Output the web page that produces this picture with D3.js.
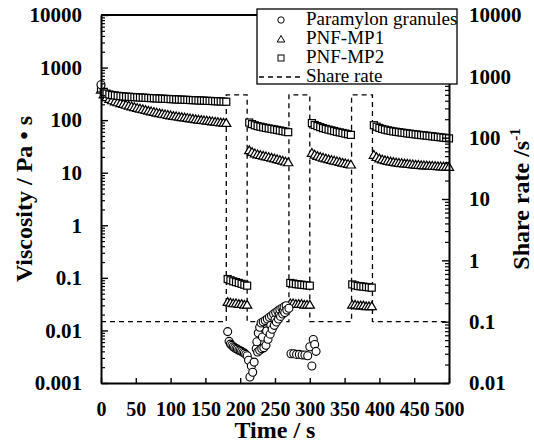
<!DOCTYPE html>
<html>
<head>
<meta charset="utf-8">
<script src="https://cdn.jsdelivr.net/npm/d3@7"></script>
<style>
  body { margin: 0; background: #fff; }
  svg text { font-family: "Liberation Serif", serif; }
</style>
</head>
<body>
<svg width="534" height="445" font-family="Liberation Serif"></svg>
<script>
// Time points shared by the two PNF series (s)
const mpTime = [0,4,8,12,16,20,24,28,32,36,40,44,48,52,56,60,64,68,72,76,80,84,88,92,96,100,104,108,112,116,120,124,128,132,136,140,144,148,152,156,160,164,168,172,176,180,
  182,186,190,194,198,202,206,210,
  213,217,221,225,229,233,237,241,245,249,253,257,261,265,269,
  272,276,280,284,288,292,296,300,
  303,307,311,315,319,323,327,331,335,339,343,347,351,355,359,
  361,365,369,373,377,381,385,389,
  392,396,400,404,408,412,416,420,424,428,432,436,440,444,448,452,456,460,464,468,472,476,480,484,488,492,496,500];

// PNF-MP2 viscosity (Pa s)
const mp2 = [400,345,320,308,300,295,290,286,283,280,278,276,274,272,270,268,266,264,262,261,259,257,256,254,253,251,250,248,247,245,244,243,241,240,239,237,236,235,233,232,231,229,228,227,225,224,
  0.095,0.09,0.086,0.083,0.08,0.077,0.074,0.071,
  90,84,80,77,75,73,71,69.5,68,66.5,65,63.5,62,60.5,59,
  0.08,0.078,0.076,0.075,0.074,0.073,0.072,0.071,
  88,81,77,73.5,70.5,68,66,64,62,60,58.5,57,55.5,54,52.5,
  0.075,0.072,0.07,0.069,0.068,0.067,0.066,0.065,
  80,75,71,68,66,64,62.5,61,60,59,58,57,56,55.2,54.4,53.6,52.8,52,51.3,50.6,49.9,49.2,48.5,47.8,47.1,46.4,45.7,45];

// PNF-MP1 viscosity (Pa s)
const mp1 = [380,310,275,255,240,229,220,212,204,197,190,184,178,172,167,162,157,152,148,144,140,136,133,130,127,124,121,119,117,115,113,111,109,107,105,103,101.5,100,98.5,97,95.5,94,92.5,91,90,89,
  0.035,0.034,0.033,0.033,0.032,0.032,0.031,0.031,
  27,25,23.5,22.5,21.8,21.2,20.6,20,19.4,18.8,18.2,17.6,17,16.4,15.9,
  0.033,0.033,0.032,0.032,0.032,0.031,0.031,0.031,
  24,22.2,21,20.2,19.5,18.8,18.2,17.6,17.1,16.6,16.1,15.6,15.2,14.8,14.4,
  0.031,0.031,0.03,0.03,0.03,0.029,0.029,0.029,
  22,20,18.8,18,17.4,16.9,16.5,16.1,15.8,15.5,15.3,15.1,14.9,14.7,14.5,14.3,14.2,14,13.9,13.8,13.7,13.6,13.5,13.4,13.3,13.2,13.1,13];

// Paramylon granules
const pgTime = [0,
  182,184,186,188,190,192,194,196,198,200,202,204,206,208,210,
  212,214,216,218,220,
  223,224,225,226,228,228,230,231,232,233,234,236,237,238,239,240,242,243,244,245,246,248,249,250,251,252,254,255,256,257,258,260,261,262,263,264,266,267,270,
  273,277,281,285,289,293,297,
  300,303,305,307,309];
const pgVisc = [470,
  0.0095,0.0062,0.0055,0.0052,0.0049,0.0047,0.0045,0.0044,0.0042,0.0041,0.004,0.0038,0.0037,0.0035,0.0033,
  0.0027,0.0013,0.0021,0.0016,0.0025,
  0.0045,0.0061,0.0039,0.0089,0.0115,0.0042,0.0138,0.0045,0.0075,0.0146,0.0047,0.0155,0.0052,0.0098,0.0165,0.0068,0.0178,0.0085,0.0125,0.019,0.0105,0.0205,0.0125,0.016,0.022,0.0145,0.0235,0.0165,0.02,0.025,0.0185,0.0265,0.0205,0.024,0.028,0.022,0.0295,0.0245,0.0265,
  0.0036,0.0036,0.0035,0.0035,0.0034,0.0034,0.0033,
  0.0049,0.0021,0.0067,0.0054,0.004];

// Shear rate program (s^-1)
const shareTime = [0,180,180,210,210,270,270,300,300,360,360,390,390,500];
const shareRate = [0.1,0.1,500,500,0.1,0.1,500,500,0.1,0.1,500,500,0.1,0.1];

const xTicks = [0,50,100,150,200,250,300,350,400,450,500];
const yLeftTicks = [0.001,0.01,0.1,1,10,100,1000,10000];
const yRightTicks = [0.01,0.1,1,10,100,1000,10000];
const legendLabels = ["Paramylon granules", "PNF-MP1", "PNF-MP2", "Share rate"];

const svg = d3.select("svg");
const mLeft = 101, mRight = 449, mTop = 15, mBottom = 383;

const x = d3.scaleLinear().domain([0, 500]).range([mLeft, mRight]);
const yL = d3.scaleLog().domain([0.001, 10000]).range([mBottom, mTop]);
const yR = d3.scaleLog().domain([0.01, 10000]).range([mBottom, mTop]);

// minor ticks 2..9 in each decade
function minors(lo, hi) {
  const out = [];
  for (let e = lo; e < hi; e++)
    for (let m = 2; m <= 9; m++) out.push(m * Math.pow(10, e));
  return out;
}
const fmt = d => String(+d.toPrecision(1));

// share rate dashed line
const shareLine = d3.line().x(d => x(d[0])).y(d => yR(d[1]));
svg.append("path")
  .datum(d3.zip(shareTime, shareRate))
  .attr("d", shareLine)
  .attr("fill", "none")
  .attr("stroke", "#000")
  .attr("stroke-width", 1.3)
  .attr("stroke-dasharray", "5,4");

// data markers
const mpData = d3.zip(mpTime, mp1, mp2);
const triPath = "M0,-4.2L4.6,3.6L-4.6,3.6Z";

svg.append("g").selectAll("path")
  .data(mpData).enter().append("path")
  .attr("transform", d => `translate(${x(d[0])},${yL(d[1])})`)
  .attr("d", triPath)
  .attr("fill", "#fff").attr("stroke", "#000").attr("stroke-width", 1.2);

svg.append("g").selectAll("rect")
  .data(mpData).enter().append("rect")
  .attr("x", d => x(d[0]) - 3.5)
  .attr("y", d => yL(d[2]) - 3.5)
  .attr("width", 7).attr("height", 7)
  .attr("fill", "#fff").attr("stroke", "#000").attr("stroke-width", 1.2);

svg.append("g").selectAll("circle")
  .data(d3.zip(pgTime, pgVisc)).enter().append("circle")
  .attr("cx", d => x(d[0]))
  .attr("cy", d => yL(d[1]))
  .attr("r", 4)
  .attr("fill", "#fff").attr("stroke", "#000").attr("stroke-width", 1.1);

// axes
function styleAxis(g, fs) {
  g.attr("font-family", null);
  g.select(".domain").attr("stroke-width", 2);
  g.selectAll(".tick line").attr("stroke-width", 1.4);
  g.selectAll("text").attr("font-size", fs).attr("font-weight", "bold");
}

svg.append("g")
  .attr("transform", `translate(0,${mBottom})`)
  .call(d3.axisBottom(x).tickValues(xTicks).tickSize(-5).tickSizeOuter(0).tickPadding(19))
  .call(g => styleAxis(g, 20));

svg.append("g")
  .attr("transform", `translate(${mLeft},0)`)
  .call(d3.axisLeft(yL).tickValues(minors(-3, 4)).tickSize(-4).tickFormat(""))
  .call(g => { g.select(".domain").remove(); g.selectAll("line").attr("stroke-width", 1.2); });
svg.append("g")
  .attr("transform", `translate(${mLeft},0)`)
  .call(d3.axisLeft(yL).tickValues(yLeftTicks).tickSize(-7).tickSizeOuter(0).tickPadding(19).tickFormat(fmt))
  .call(g => styleAxis(g, 21));

svg.append("g")
  .attr("transform", `translate(${mRight},0)`)
  .call(d3.axisRight(yR).tickValues(minors(-2, 4)).tickSize(-4).tickFormat(""))
  .call(g => { g.select(".domain").remove(); g.selectAll("line").attr("stroke-width", 1.2); });
svg.append("g")
  .attr("transform", `translate(${mRight},0)`)
  .call(d3.axisRight(yR).tickValues(yRightTicks).tickSize(-7).tickSizeOuter(0).tickPadding(20).tickFormat(fmt))
  .call(g => styleAxis(g, 21));

// top frame
svg.append("line")
  .attr("x1", mLeft).attr("x2", mRight).attr("y1", mTop).attr("y2", mTop)
  .attr("stroke", "#000").attr("stroke-width", 2);

// axis titles
svg.append("text")
  .attr("x", (mLeft + mRight) / 2).attr("y", 438)
  .attr("text-anchor", "middle")
  .attr("font-size", 24).attr("font-weight", "bold")
  .text("Time / s");

svg.append("text")
  .attr("transform", `translate(32,${(mTop + mBottom) / 2}) rotate(-90)`)
  .attr("text-anchor", "middle")
  .attr("font-size", 24).attr("font-weight", "bold")
  .text("Viscosity / Pa \u2022 s");

const rt = svg.append("text")
  .attr("transform", `translate(529,${(mTop + mBottom) / 2}) rotate(-90)`)
  .attr("text-anchor", "middle")
  .attr("font-size", 24).attr("font-weight", "bold");
rt.append("tspan").text("Share rate  /s");
rt.append("tspan").attr("font-size", 15).attr("dy", -9).text("-1");

// legend
const lg = svg.append("g");
lg.append("rect")
  .attr("x", 257).attr("y", 9).attr("width", 200).attr("height", 75)
  .attr("fill", "#fff").attr("stroke", "#000").attr("stroke-width", 1.3);

const rowY = d3.scalePoint().domain(legendLabels).range([25, 82]);
legendLabels.forEach((lab, i) => {
  const yb = rowY(lab);
  lg.append("text").attr("x", 306).attr("y", yb)
    .attr("font-size", 19).text(lab);
  const cy = yb - 5;
  if (i === 0) {
    lg.append("circle").attr("cx", 281).attr("cy", cy).attr("r", 3.2)
      .attr("fill", "#fff").attr("stroke", "#000");
  } else if (i === 1) {
    lg.append("path").attr("transform", `translate(281,${cy})`)
      .attr("d", "M0,-3.5L3.8,3L-3.8,3Z").attr("fill", "#fff").attr("stroke", "#000");
  } else if (i === 2) {
    lg.append("rect").attr("x", 278).attr("y", cy - 3).attr("width", 6).attr("height", 6)
      .attr("fill", "#fff").attr("stroke", "#000");
  } else {
    lg.append("line").attr("x1", 259).attr("x2", 302).attr("y1", cy).attr("y2", cy)
      .attr("stroke", "#000").attr("stroke-width", 1.3).attr("stroke-dasharray", "5,4");
  }
});
</script>
</body>
</html>
